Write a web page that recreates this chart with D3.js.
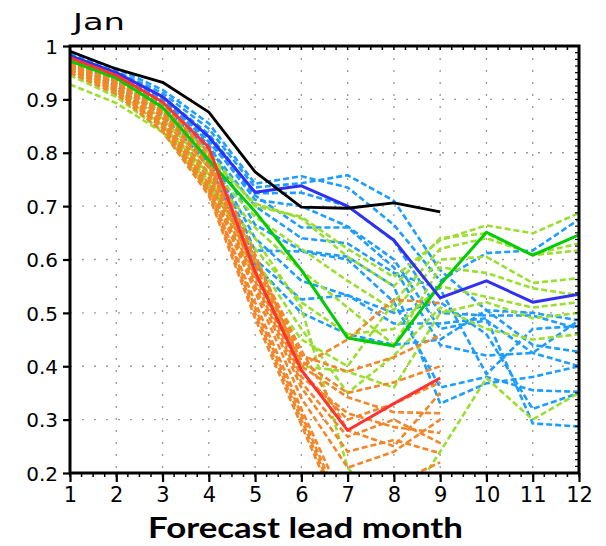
<!DOCTYPE html>
<html>
<head>
<meta charset="utf-8">
<script src="https://cdn.jsdelivr.net/npm/d3@7"></script>
<style>
  html, body { margin: 0; padding: 0; background: #fff; }
  svg { display: block; }
</style>
</head>
<body>
<svg id="chart" width="606" height="546"></svg>
<script>
// ---------- data ----------
const title = "Jan";
const xLabel = "Forecast lead month";
const months = [1, 2, 3, 4, 5, 6, 7, 8, 9, 10, 11, 12];
const yTicks = [0.2, 0.3, 0.4, 0.5, 0.6, 0.7, 0.8, 0.9, 1];
const yTickLabels = ["0.2", "0.3", "0.4", "0.5", "0.6", "0.7", "0.8", "0.9", "1"];

// ensemble members (dashed)
const blueMembers = [
  [0.985,0.958,0.918,0.855,0.742,0.756,0.735,0.665,0.56,0.612,0.617,0.675],
  [0.982,0.952,0.912,0.845,0.735,0.743,0.758,0.71,0.58,0.505,0.50,0.486],
  [0.978,0.947,0.905,0.835,0.724,0.725,0.70,0.635,0.50,0.495,0.495,0.47],
  [0.976,0.944,0.898,0.825,0.712,0.70,0.662,0.60,0.47,0.486,0.425,0.40],
  [0.972,0.938,0.892,0.815,0.665,0.617,0.605,0.55,0.33,0.368,0.38,0.40],
  [0.97,0.933,0.884,0.805,0.617,0.615,0.60,0.52,0.36,0.38,0.355,0.352],
  [0.975,0.94,0.89,0.80,0.64,0.56,0.533,0.50,0.52,0.46,0.32,0.35],
  [0.97,0.935,0.88,0.79,0.60,0.525,0.533,0.48,0.48,0.49,0.293,0.287],
  [0.98,0.945,0.90,0.82,0.72,0.66,0.66,0.585,0.44,0.42,0.425,0.486],
  [0.965,0.925,0.87,0.78,0.59,0.50,0.46,0.44,0.45,0.505,0.44,0.427],
  [0.972,0.936,0.886,0.81,0.70,0.64,0.63,0.575,0.545,0.385,0.47,0.475]
];
const greenMembers = [
  [0.966,0.936,0.882,0.80,0.70,0.68,0.62,0.567,0.636,0.664,0.649,0.687],
  [0.962,0.93,0.875,0.79,0.705,0.677,0.605,0.55,0.64,0.649,0.608,0.617],
  [0.956,0.92,0.865,0.772,0.68,0.62,0.56,0.505,0.60,0.605,0.556,0.565],
  [0.95,0.912,0.852,0.76,0.66,0.58,0.51,0.44,0.585,0.575,0.546,0.533],
  [0.928,0.893,0.838,0.735,0.62,0.52,0.46,0.47,0.55,0.53,0.51,0.52],
  [0.96,0.922,0.858,0.758,0.58,0.40,0.39,0.36,0.50,0.52,0.49,0.50],
  [0.954,0.915,0.848,0.742,0.64,0.51,0.21,0.107,0.24,0.378,0.30,0.35],
  [0.958,0.918,0.852,0.748,0.60,0.47,0.35,0.42,0.51,0.47,0.45,0.46],
  [0.945,0.905,0.84,0.73,0.57,0.45,0.40,0.52,0.62,0.64,0.61,0.63]
];
const orangeMembers = [
  [0.975,0.945,0.892,0.80,0.61,0.40,0.45,0.525,0.518],
  [0.972,0.94,0.886,0.792,0.60,0.42,0.39,0.417,0.458],
  [0.97,0.936,0.88,0.782,0.59,0.41,0.35,0.37,0.40],
  [0.966,0.93,0.872,0.772,0.58,0.40,0.342,0.314,0.312],
  [0.97,0.935,0.876,0.78,0.57,0.38,0.312,0.286,0.275],
  [0.965,0.93,0.866,0.762,0.56,0.37,0.268,0.30,0.256],
  [0.96,0.925,0.86,0.752,0.55,0.36,0.24,0.262,0.237],
  [0.962,0.922,0.856,0.742,0.54,0.34,0.21,0.24,0.30],
  [0.956,0.916,0.85,0.732,0.52,0.32,0.13,0.18,0.22],
  [0.96,0.92,0.852,0.735,0.51,0.31,0.11,0.12,0.15],
  [0.955,0.915,0.846,0.725,0.50,0.30,0.10,0.10,0.12],
  [0.95,0.91,0.84,0.72,0.49,0.29,0.09,0.08,0.10],
  [0.968,0.932,0.874,0.775,0.575,0.39,0.30,0.33,0.37],
  [0.974,0.942,0.884,0.79,0.60,0.43,0.28,0.25,0.35]
];
// ensemble means / reference (solid)
const greenMean = [0.972,0.94,0.885,0.786,0.69,0.58,0.453,0.438,0.553,0.651,0.608,0.646];
const blueMean  = [0.982,0.95,0.905,0.83,0.726,0.738,0.70,0.636,0.528,0.56,0.52,0.535];
const redMean   = [0.978,0.945,0.895,0.81,0.577,0.393,0.28,0.33,0.378];
const blackLine = [0.99,0.957,0.932,0.876,0.764,0.698,0.696,0.706,0.689];

// ---------- layout ----------
const svg = d3.select("#chart");
const L = 70, R = 579, T = 46, B = 473;
const x = d3.scaleLinear().domain([1, 12]).range([L, R]);
const y = d3.scaleLinear().domain([0.2, 1]).range([B, T]);

svg.append("defs").append("clipPath").attr("id", "clip")
  .append("rect").attr("x", L).attr("y", T).attr("width", R - L).attr("height", B - T);

// grid
const grid = svg.append("g");
grid.selectAll("line.v").data(months.slice(1, -1)).join("line")
  .attr("x1", d => x(d)).attr("x2", d => x(d)).attr("y1", T).attr("y2", B)
  .attr("stroke", "#9a9a9a").attr("stroke-width", 1.3).attr("stroke-dasharray", "2,10");
grid.selectAll("line.h").data(yTicks.slice(1, -1)).join("line")
  .attr("y1", d => y(d)).attr("y2", d => y(d)).attr("x1", L).attr("x2", R)
  .attr("stroke", "#9a9a9a").attr("stroke-width", 1.3).attr("stroke-dasharray", "2,10");

// lines
const line = d3.line().x((d, i) => x(months[i])).y(d => y(d));
const plot = svg.append("g").attr("clip-path", "url(#clip)");
function drawSet(data, color, dashed, width) {
  plot.append("g").selectAll("path").data(data).join("path")
    .attr("d", line).attr("fill", "none").attr("stroke", color)
    .attr("stroke-width", width)
    .attr("stroke-dasharray", dashed ? "6,3" : null)
    .attr("stroke-linejoin", "round");
}
drawSet(blueMembers, "#1c9dff", true, 2.6);
drawSet(greenMembers, "#9ade2e", true, 2.6);
drawSet(orangeMembers, "#f38629", true, 2.6);
drawSet([greenMean], "#00cc00", false, 3);
drawSet([blueMean], "#3030f2", false, 3);
drawSet([redMean], "#ff3232", false, 3);
drawSet([blackLine], "#000000", false, 2.8);

// axes & frame
const ax = svg.append("g");
// minor ticks top & bottom (quarter months)
const quarter = d3.range(1, 12.001, 0.25);
ax.selectAll("line.tb").data(quarter).join("line")
  .attr("x1", d => x(d)).attr("x2", d => x(d)).attr("y1", T).attr("y2", T + 4)
  .attr("stroke", "#000").attr("stroke-width", 1.5);
ax.selectAll("line.bb").data(quarter).join("line")
  .attr("x1", d => x(d)).attr("x2", d => x(d)).attr("y1", B).attr("y2", B + 4)
  .attr("stroke", "#000").attr("stroke-width", 1.5);
// right minor ticks
const rightT = d3.range(0.2, 1.0001, 0.0125);
ax.selectAll("line.rt").data(rightT).join("line")
  .attr("x1", R - 4).attr("x2", R).attr("y1", d => y(d)).attr("y2", d => y(d))
  .attr("stroke", "#000").attr("stroke-width", 1.2);

const xAxis = d3.axisBottom(x).tickValues(months).tickSize(9).tickFormat(d3.format("d"));
const gx = svg.append("g").attr("transform", `translate(0,${B})`).call(xAxis);
gx.select(".domain").remove();
gx.selectAll(".tick line").attr("stroke-width", 2.2);
gx.selectAll(".tick text").attr("y", 14).attr("dy", "0.71em")
  .attr("font-family", "DejaVu Sans").attr("font-size", 21).attr("fill", "#000");

const yAxis = d3.axisLeft(y).tickValues(yTicks).tickSize(7)
  .tickFormat((d, i) => yTickLabels[i]);
const gy = svg.append("g").attr("transform", `translate(${L},0)`).call(yAxis);
gy.select(".domain").remove();
gy.selectAll(".tick line").attr("stroke-width", 2.2);
gy.selectAll(".tick text").attr("x", -12).attr("dy", "0.36em")
  .attr("font-family", "DejaVu Sans").attr("font-size", 20).attr("fill", "#000");

// frame
svg.append("rect").attr("x", L).attr("y", T).attr("width", R - L).attr("height", B - T)
  .attr("fill", "none").attr("stroke", "#000").attr("stroke-width", 3);

// title
svg.append("text").attr("x", 73).attr("y", 30).text(title)
  .attr("font-family", "DejaVu Sans").attr("font-size", 23)
  .attr("textLength", 52).attr("lengthAdjust", "spacingAndGlyphs");

// x label
svg.append("text").attr("x", (148 + 463) / 2).attr("y", 538).attr("text-anchor", "middle")
  .text(xLabel).attr("font-family", "Lato, 'Open Sans', sans-serif").attr("font-weight", "bold")
  .attr("font-size", 29).attr("textLength", 315).attr("lengthAdjust", "spacingAndGlyphs");
</script>
</body>
</html>
